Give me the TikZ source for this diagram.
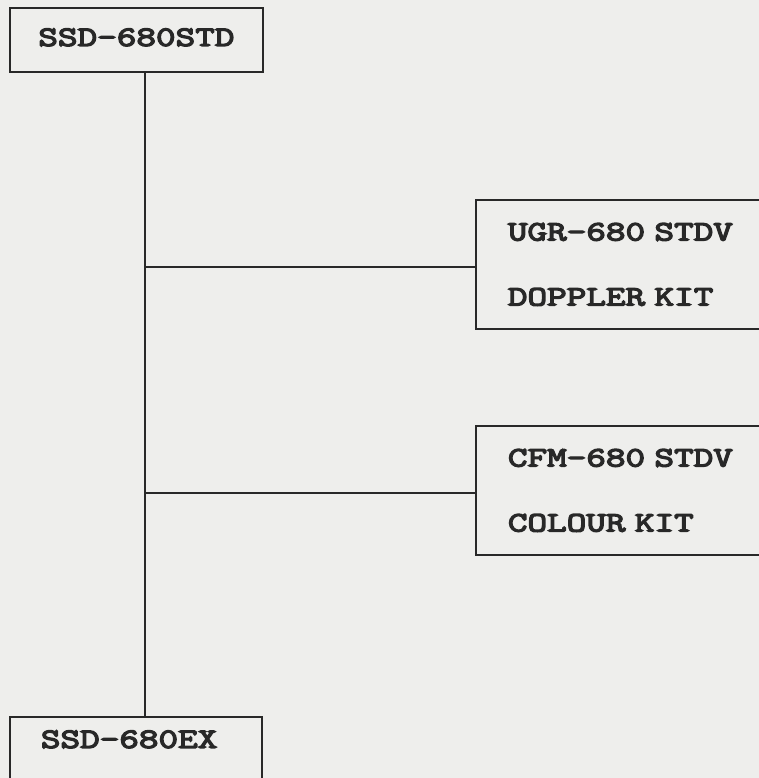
\documentclass[tikz,border=0pt]{standalone}
\usepackage{fontspec}
\newfontfamily\kitfont{Latin Modern Mono}[FakeBold=5,FakeStretch=1.36,WordSpace=1.35]
\usetikzlibrary{positioning,calc}
\definecolor{paper}{RGB}{238,238,236}
\definecolor{ink}{RGB}{40,40,40}

\begin{document}
\begin{tikzpicture}[x=1pt,y=-1pt,
    unitbox/.style={draw=ink,line width=1.8pt,text=ink,inner ysep=0pt,
      font=\kitfont\fontsize{28}{65}\selectfont,anchor=north west,align=left},
    kitbox/.style={unitbox,minimum width=300,minimum height=129,inner xsep=32pt,
      text width=250},
    link/.style={draw=ink,line width=1.8pt}]
    % paper
    \fill[paper] (0,0) rectangle (759,778);
    \clip (0,0) rectangle (759,778);
    % main units
    \node[unitbox,inner xsep=0pt,minimum width=253,align=center,text height=38,text depth=26] (std) at (9,7) {SSD-680STD};
    \node[unitbox,inner xsep=31pt,text width=190,text height=31,text depth=35] (ex) at (9,716) {SSD-680EX};
    % option kits
    \node[kitbox] (ugr) at (475,199) {UGR-680 STDV\\DOPPLER KIT};
    \node[kitbox] (cfm) at (475,425) {CFM-680 STDV\\COLOUR KIT};
    % trunk and branches
    \coordinate (trunk) at (145,0);
    \draw[link] (std.south -| trunk) -- (ex.north -| trunk);
    \draw[link] ([yshift=-2.5]ugr.west) -- ([yshift=-2.5]ugr.west -| trunk);
    \draw[link] ([yshift=-2.5]cfm.west) -- ([yshift=-2.5]cfm.west -| trunk);
  \end{tikzpicture}
\end{document}
